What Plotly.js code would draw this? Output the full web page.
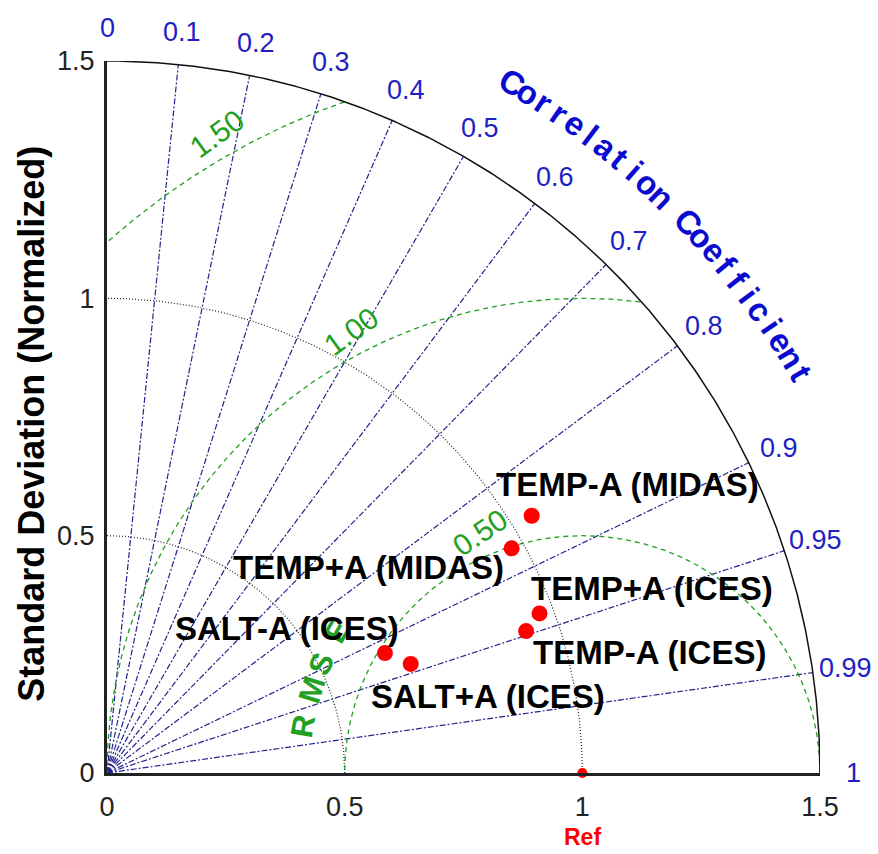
<!DOCTYPE html>
<html><head><meta charset="utf-8">
<script src="https://cdn.plot.ly/plotly-3.0.1.min.js"></script>
<style>html,body{margin:0;padding:0;background:#fff}#chart{width:878px;height:854px}</style>
</head><body><div id="chart"></div>
<script>
// ---------- data ----------
const modelNames = ["TEMP-A (MIDAS)", "TEMP+A (MIDAS)", "TEMP+A (ICES)", "TEMP-A (ICES)", "SALT-A (ICES)", "SALT+A (ICES)"];
const modelStd  = [1.045, 0.974, 0.970, 0.931, 0.637, 0.679];
const modelCorr = [0.855, 0.874, 0.938, 0.947, 0.918, 0.941];
const refStd = 1.0;
const refLabel = "Ref";
const corrTicks = [0, 0.1, 0.2, 0.3, 0.4, 0.5, 0.6, 0.7, 0.8, 0.9, 0.95, 0.99, 1];
const corrTickLabels = ["0", "0.1", "0.2", "0.3", "0.4", "0.5", "0.6", "0.7", "0.8", "0.9", "0.95", "0.99", "1"];
const corrLines = [0.1, 0.2, 0.3, 0.4, 0.5, 0.6, 0.7, 0.8, 0.9, 0.95, 0.99];
const stdArcs = [0.5, 1.0];
const stdMax = 1.5;
const rmsArcs = [0.5, 1.0, 1.5];
const rmsLabels = ["0.50", "1.00", "1.50"];
const stdTicks = [0, 0.5, 1, 1.5];
const stdTickLabels = ["0", "0.5", "1", "1.5"];
const corrTitle = "Correlation Coefficient";
const rmsTitle = "RMSE";
const yTitle = "Standard Deviation (Normalized)";

// ---------- layout / style config ----------
const FONT = "Liberation Sans, Arial, Helvetica, sans-serif";
const BLUE_LINE = "#23238c";
const BLUE_TXT = "#1f1fc4";
const BLUE_TITLE = "#0a0ad0";
const GREEN = "#22a022";
const labelShift = [[96, 31], [-143, -19], [113, 25], [123, -21], [-98, 25], [77, -33]];
const rmsLabelAngle = [113, 117.6, 119.7];   // deg, around the reference point
const rmsLabelRot = [-34, -36, -36];
const rmsTitleAngle = [170.4, 162.8, 157.2, 149.8];
const corrLabelR = 1.57;
const corrTitleR = 1.685, corrTitleStart = 59.65, corrTitleStep = 1.35;

const D = Math.PI / 180;
const traces = [];

// correlation spokes
{
  const x = [], y = [];
  corrLines.forEach(c => {
    const s = Math.sqrt(1 - c * c);
    x.push(0, stdMax * c, null); y.push(0, stdMax * s, null);
  });
  traces.push({x, y, mode: "lines", line: {color: BLUE_LINE, width: 1.2, dash: "6px,2px,2px,2px"}, hoverinfo: "skip"});
}
// std arcs (dotted)
{
  const x = [], y = [];
  stdArcs.forEach(r => {
    for (let a = 0; a <= 90; a += 0.5) { x.push(r * Math.cos(a * D)); y.push(r * Math.sin(a * D)); }
    x.push(null); y.push(null);
  });
  traces.push({x, y, mode: "lines", line: {color: "#222", width: 1.2, dash: "1px,2px"}, hoverinfo: "skip"});
}
// RMS arcs (green dashed)
{
  const x = [], y = [];
  rmsArcs.forEach(R => {
    let on = false;
    for (let a = 0; a <= 180; a += 0.25) {
      const px = refStd + R * Math.cos(a * D), py = R * Math.sin(a * D);
      if (px >= -1e-9 && px * px + py * py <= stdMax * stdMax + 1e-9) { x.push(px); y.push(py); on = true; }
      else if (on) { x.push(null); y.push(null); on = false; }
    }
    x.push(null); y.push(null);
  });
  traces.push({x, y, mode: "lines", line: {color: GREEN, width: 1.3, dash: "5px,4px"}, hoverinfo: "skip"});
}
// outer arc
{
  const x = [], y = [];
  for (let a = 0; a <= 90; a += 0.25) { x.push(stdMax * Math.cos(a * D)); y.push(stdMax * Math.sin(a * D)); }
  traces.push({x, y, mode: "lines", line: {color: "#111", width: 1.5}, hoverinfo: "skip"});
}
// model points
traces.push({
  x: modelStd.map((s, i) => s * modelCorr[i]),
  y: modelStd.map((s, i) => s * Math.sqrt(1 - modelCorr[i] * modelCorr[i])),
  mode: "markers", marker: {color: "#ff0000", size: 16}, text: modelNames, hoverinfo: "text", cliponaxis: false
});
// reference point
traces.push({x: [refStd], y: [0], mode: "markers", marker: {color: "#ff0000", size: 10}, cliponaxis: false, hoverinfo: "skip"});

// ---------- annotations ----------
const ann = [];
// correlation tick labels (paper coords, range 0..stdMax)
corrTicks.forEach((c, i) => {
  const s = Math.sqrt(Math.max(0, 1 - c * c));
  ann.push({xref: "paper", yref: "paper", x: corrLabelR * c / stdMax, y: corrLabelR * s / stdMax,
    text: corrTickLabels[i], showarrow: false, xanchor: "center", yanchor: "middle",
    font: {family: FONT, size: 27, color: BLUE_TXT}});
});
// correlation title along the arc
corrTitle.split("").forEach((ch, i) => {
  if (ch === " ") return;
  const th = corrTitleStart - i * corrTitleStep;
  ann.push({xref: "paper", yref: "paper", x: corrTitleR * Math.cos(th * D) / stdMax, y: corrTitleR * Math.sin(th * D) / stdMax,
    text: ch, showarrow: false, xanchor: "center", yanchor: "middle", textangle: 90 - th,
    font: {family: FONT, size: 33, color: BLUE_TITLE, weight: "bold"}});
});
// RMS labels
rmsArcs.forEach((R, i) => {
  const a = rmsLabelAngle[i] * D, rr = R + 0.05;
  ann.push({xref: "x", yref: "y", x: refStd + rr * Math.cos(a), y: rr * Math.sin(a), text: rmsLabels[i],
    showarrow: false, textangle: rmsLabelRot[i], font: {family: FONT, size: 30, color: GREEN}});
});
// RMSE title letters
rmsTitle.split("").forEach((ch, i) => {
  const phi = rmsTitleAngle[i];
  ann.push({xref: "x", yref: "y", x: refStd + 0.595 * Math.cos(phi * D), y: 0.595 * Math.sin(phi * D), text: ch,
    showarrow: false, textangle: 90 - phi, font: {family: FONT, size: 31, color: GREEN, weight: "bold"}});
});
// model labels
modelNames.forEach((n, i) => {
  ann.push({xref: "x", yref: "y", x: modelStd[i] * modelCorr[i], y: modelStd[i] * Math.sqrt(1 - modelCorr[i] ** 2),
    xshift: labelShift[i][0], yshift: labelShift[i][1], text: n, showarrow: false,
    font: {family: FONT, size: 33, color: "#000", weight: "bold"}});
});
// Ref label
ann.push({xref: "x", yref: "paper", x: refStd, y: -0.09, text: refLabel, showarrow: false, yanchor: "middle",
  font: {family: FONT, size: 23, color: "#ff0000", weight: "bold"}});
// y title
ann.push({xref: "paper", yref: "paper", x: -0.107, y: 0.49, text: yTitle, showarrow: false, textangle: -90,
  xanchor: "center", yanchor: "middle", font: {family: FONT, size: 36, color: "#000", weight: "bold"}});

const axisCommon = {range: [0, stdMax], tickvals: stdTicks, ticktext: stdTickLabels, showgrid: false, zeroline: false,
  showline: true, linewidth: 3, linecolor: "#222", ticks: "", tickfont: {family: FONT, size: 27, color: "#222"}, fixedrange: true};

const layout = {
  width: 878, height: 854, margin: {l: 107, r: 58, t: 61, b: 81},
  paper_bgcolor: "#fff", plot_bgcolor: "#fff", showlegend: false,
  xaxis: Object.assign({}, axisCommon, {ticklabelstandoff: 8}),
  yaxis: Object.assign({}, axisCommon, {ticklabelstandoff: 4}),
  annotations: ann, font: {family: FONT}
};
Plotly.newPlot("chart", traces, layout, {displayModeBar: false, staticPlot: true});
</script></body></html>
